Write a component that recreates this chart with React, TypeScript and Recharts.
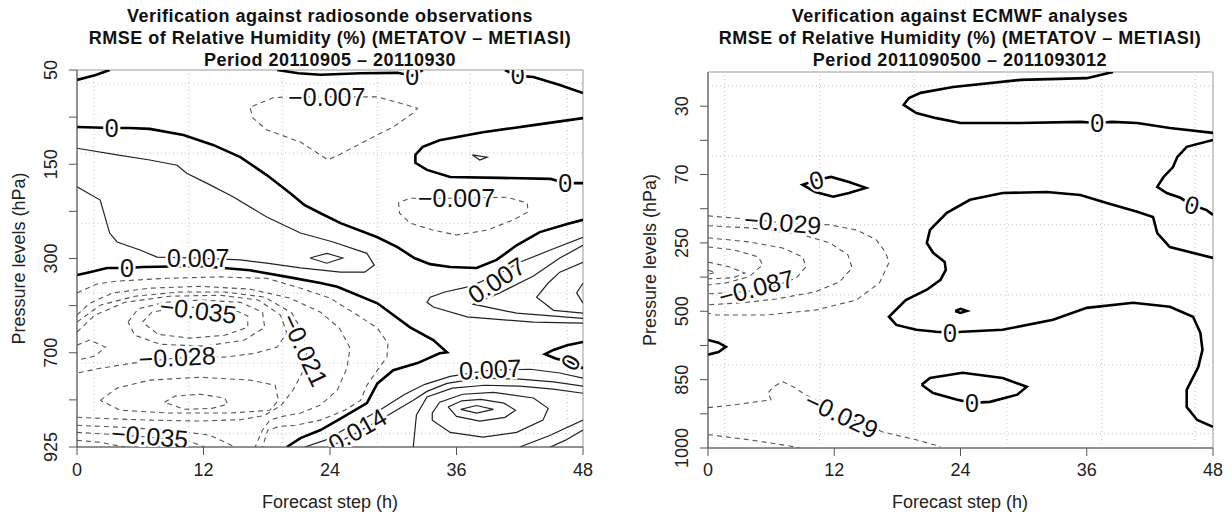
import { ComposedChart, Line, XAxis, YAxis, ReferenceLine, ReferenceArea, Scatter } from 'recharts'

const FONT = '"Liberation Sans", Arial, Helvetica, sans-serif'
const AXIS = '#555'

// forecast steps (h) shared by both panels
const steps = [0, 12, 24, 36, 48]

// ---------- left panel: radiosonde (y = level index 0..8, 0 at top) ----------
const radioLevels = ['50', '', '150', '', '300', '', '700', '', '925']
const radioTicks = [0, 1, 2, 3, 4, 5, 6, 7, 8]
const radioGridX = [1.6, 10.6, 19.5, 28.5, 37.3, 46.5]
const radioGridY = [0.28, 1.76, 3.25, 4.73, 6.22, 7.71]

const radioZeroA = [[0, 0.21], [1.7, 0.11], [3.1, 0]]
const radioZeroB = [[19, 0], [21, 0.07], [23.1, 0.1], [26.9, 0.07], [30.4, 0.06], [31.8, 0.12], [32.8, 0]]
const radioZeroC = [[40.6, 0], [41.7, 0.12], [43.3, 0.15], [45.8, 0.32], [48, 0.49]]
const radioZeroD = [[0, 1.21], [3.3, 1.23], [5.0, 1.23], [6.9, 1.25], [10.1, 1.38], [12.9, 1.59], [15.5, 1.85], [18.0, 2.23], [20.2, 2.61], [21.6, 2.87], [23.1, 3.04], [25.0, 3.25], [28.5, 3.55], [30.4, 3.76], [32.0, 3.99], [33.5, 4.12], [35.4, 4.18], [37.9, 4.2], [39.8, 4.03], [41.7, 3.72], [43.9, 3.44], [46.5, 3.27], [48, 3.18]]
const radioZeroE = [[48, 1.02], [43.3, 1.17], [38.5, 1.32], [34.4, 1.49], [32.8, 1.63], [32.1, 1.8], [32.1, 1.97], [33.2, 2.12], [35.4, 2.27], [40.1, 2.29], [44.9, 2.31], [46.3, 2.4], [48, 2.4]]
const radioZeroF = [[0, 4.35], [1.2, 4.29], [2.85, 4.2], [4.74, 4.2], [6.3, 4.18], [11.7, 4.16], [16.4, 4.25], [20.2, 4.4], [23.1, 4.52], [24.7, 4.6], [28.5, 4.95], [31.6, 5.46], [33.8, 5.73], [35.1, 5.99], [34.4, 6.01], [32.3, 6.22], [30.0, 6.37], [28.5, 6.65], [27.5, 7.07], [25.2, 7.37], [23.1, 7.64], [21.2, 7.81], [19.9, 8]]
const radioZeroG = [[48, 5.77], [46.5, 5.84], [45.2, 5.94], [44.4, 6.03], [45.4, 6.12], [46.8, 6.2], [48, 6.33]]

const radioPosTongue = [[0, 1.66], [3.8, 1.8], [6.9, 1.91], [9.5, 2.02], [10.4, 2.19], [12.3, 2.4], [14.8, 2.69], [18.0, 3.12], [21.2, 3.46], [24.3, 3.65], [27.5, 3.89], [28.2, 4.14], [27.3, 4.29], [25.0, 4.29], [21.2, 4.2], [18.0, 4.1], [15.5, 4.03], [11.5, 3.99], [7.6, 3.97], [5.98, 3.82], [3.8, 3.65], [3.1, 3.46], [2.2, 2.76], [0, 2.48]]
const radioPosDiamond = [[22.1, 3.99], [23.7, 3.89], [25.2, 3.99], [23.7, 4.1], [22.1, 3.99]]
const radioPosTriangle = [[37.5, 1.8], [38.9, 1.85], [38.2, 1.91], [37.5, 1.8]]
const radioPosWedge1 = [[48, 3.55], [44.9, 3.82], [42.0, 4.08], [39.8, 4.35], [37.3, 4.59], [34.9, 4.71], [33.5, 4.82], [33.2, 4.93], [33.8, 5.03], [37.0, 5.24], [43.3, 5.35], [48, 5.37]]
const radioPosWedge2 = [[48, 3.72], [45.8, 3.99], [43.3, 4.37], [40.1, 4.73], [37.6, 4.97], [41.7, 5.16], [48, 5.27]]
const radioPosWedge3 = [[48, 4.08], [45.8, 4.29], [44.7, 4.52], [43.6, 4.82], [45.2, 5.1], [48, 5.16]]
const radioPosWedge4 = [[48, 4.52], [47.4, 4.73], [48, 4.95]]
const radioPosLow1 = [[21.6, 8], [23.5, 7.86], [25.9, 7.56], [28.7, 7.22], [31.1, 6.88], [33.0, 6.67], [35.4, 6.5], [39.2, 6.37], [43.0, 6.35], [45.8, 6.43], [48, 6.54]]
const radioPosLow2 = [[24, 8], [26.6, 7.69], [29.7, 7.3], [31.9, 7.01], [33.2, 6.82], [35.1, 6.65], [38.2, 6.54], [42.0, 6.56], [45.2, 6.62], [48, 6.71]]
const radioPosLow3 = [[31.9, 8], [32.2, 7.32], [33.2, 6.94], [35.6, 6.75], [38.7, 6.69], [42.0, 6.71], [45.2, 6.77], [48, 6.86]]
const radioPosLow4 = [[44.9, 8], [46.3, 7.86], [48, 7.64]]
const radioPosLow5 = [[42.0, 8], [44.9, 7.75], [48, 7.43]]
const radioPosOval1 = [[33.7, 7.28], [34.4, 7.05], [36.6, 6.88], [39.5, 6.84], [43.3, 6.96], [44.7, 7.18], [44.2, 7.43], [41.7, 7.69], [38.5, 7.79], [35.4, 7.69], [33.7, 7.43], [33.7, 7.28]]
const radioPosOval2 = [[35.2, 7.15], [36.5, 7.02], [38.3, 6.99], [40.5, 7.07], [41.6, 7.22], [40.6, 7.37], [38.2, 7.45], [36.0, 7.35], [35.2, 7.15]]
const radioPosOval3 = [[36.4, 7.2], [37.9, 7.12], [39.5, 7.2], [37.9, 7.28], [36.4, 7.2]]

const radioNegTop = [[23.7, 0.57], [28.5, 0.57], [30.6, 0.7], [32.3, 0.81], [31.9, 0.91], [30.0, 1.21], [27.5, 1.49], [25.2, 1.76], [23.8, 1.91], [22.8, 1.76], [21.2, 1.53], [18.0, 1.27], [16.7, 1.02], [16.4, 0.79], [18.6, 0.59], [19.9, 0.57], [23.7, 0.57]]
const radioNegMid = [[36.0, 2.72], [40.8, 2.7], [42.7, 2.82], [42.8, 3.01], [41.4, 3.18], [38.9, 3.4], [36.0, 3.5], [33.8, 3.4], [31.6, 3.25], [30.6, 3.04], [30.5, 2.82], [31.6, 2.72], [36.0, 2.72]]
const radioNeg1 = [[0, 4.73], [1.9, 4.54], [3.8, 4.48], [8.5, 4.42], [13.3, 4.39], [18.0, 4.42], [21.2, 4.63], [24.0, 4.84], [26.6, 5.2], [28.5, 5.48], [29.5, 5.8], [29.4, 6.09], [28.5, 6.37], [27.5, 6.69], [26.9, 7.01], [25.4, 7.22], [23.1, 7.43], [20.7, 7.54], [19.3, 7.56], [18.1, 7.64], [17.6, 8]]
const radioNeg2 = [[0, 5.2], [1.2, 4.95], [3.4, 4.73], [6.9, 4.63], [11.7, 4.59], [16.4, 4.65], [20.2, 4.84], [23.1, 5.14], [24.9, 5.48], [25.9, 5.9], [25.6, 6.33], [24.7, 6.79], [23.1, 7.11], [21.2, 7.28], [19.5, 7.35], [18.3, 7.43], [17.6, 7.64], [16.9, 8]]
const radioNeg3 = [[0, 5.35], [2.2, 4.99], [5.5, 4.8], [9.8, 4.71], [14.0, 4.71], [17.8, 4.82], [20.4, 5.16], [21.4, 5.58], [21.8, 5.99], [21.4, 6.41], [20.5, 6.79], [19.4, 7.11], [17.8, 7.33], [15.5, 7.42], [11.7, 7.45], [6.9, 7.43], [3.1, 7.4], [0, 7.37]]
const radioNeg4 = [[0, 5.56], [1.7, 5.2], [4.55, 4.93], [8.8, 4.8], [13.6, 4.78], [17.2, 4.88], [19.3, 5.2], [19.9, 5.58], [19.0, 5.88], [16.9, 6.01], [14.2, 6.09], [9.5, 6.11], [5.3, 6.22], [2.2, 6.33], [0, 6.43]]
const radioNeg5 = [[0, 5.84], [1.2, 5.73], [2.7, 5.88], [1.7, 6.07], [0, 6.16]]
const radioNegCoreOuter = [[4.84, 5.35], [5.8, 5.07], [8.3, 4.93], [11.7, 4.88], [15.5, 4.93], [17.6, 5.14], [17.8, 5.46], [15.9, 5.73], [12.1, 5.86], [7.9, 5.82], [5.5, 5.63], [4.84, 5.35]]
const radioNegCoreInner = [[6.2, 5.35], [7.1, 5.14], [9.3, 5.05], [11.7, 5.03], [14.5, 5.05], [16.2, 5.22], [16.2, 5.46], [14.0, 5.63], [10.7, 5.69], [7.7, 5.61], [6.2, 5.35]]
const radioNegLowOuter = [[2.2, 7.01], [3.8, 6.75], [6.9, 6.58], [11.7, 6.52], [16.4, 6.58], [18.8, 6.69], [19.1, 7.01], [18.3, 7.22], [14.5, 7.28], [8.8, 7.28], [4.1, 7.22], [2.2, 7.01]]
const radioNegLowInner = [[8.3, 7.05], [9.3, 6.92], [11.7, 6.88], [14.0, 6.96], [14.3, 7.09], [12.8, 7.18], [10.2, 7.2], [8.3, 7.05]]
const radioNegCorner1 = [[0, 7.54], [4.1, 7.58], [8.8, 7.64], [12.6, 7.75], [15.0, 8]]
const radioNegCorner2 = [[0, 7.69], [3.1, 7.73], [6.9, 7.79], [10.7, 7.88], [12.1, 8]]
const radioNegCorner3 = [[0, 7.86], [2.2, 7.9], [4.55, 8]]

const radioThick = [radioZeroA, radioZeroB, radioZeroC, radioZeroD, radioZeroE, radioZeroF, radioZeroG]
const radioThin = [radioPosTongue, radioPosDiamond, radioPosTriangle, radioPosWedge1, radioPosWedge2, radioPosWedge3, radioPosWedge4, radioPosLow1, radioPosLow2, radioPosLow3, radioPosLow4, radioPosLow5, radioPosOval1, radioPosOval2, radioPosOval3]
const radioDashed = [radioNegTop, radioNegMid, radioNeg1, radioNeg2, radioNeg3, radioNeg4, radioNeg5, radioNegCoreOuter, radioNegCoreInner, radioNegLowOuter, radioNegLowInner, radioNegCorner1, radioNegCorner2, radioNegCorner3]

const radioLabels = [
  { x: 31.8, y: 0.13, text: '0', angle: 0 },
  { x: 41.8, y: 0.11, text: '0', angle: 0 },
  { x: 23.7, y: 0.57, text: '\u22120.007', angle: 0 },
  { x: 3.3, y: 1.23, text: '0', angle: 0 },
  { x: 46.3, y: 2.4, text: '0', angle: 0 },
  { x: 36.0, y: 2.72, text: '\u22120.007', angle: 0 },
  { x: 11.5, y: 3.99, text: '0.007', angle: 0 },
  { x: 4.74, y: 4.2, text: '0', angle: 0 },
  { x: 39.8, y: 4.46, text: '0.007', angle: -33 },
  { x: 11.5, y: 5.1, text: '\u22120.035', angle: 7 },
  { x: 21.6, y: 5.94, text: '\u22120.021', angle: 65 },
  { x: 9.5, y: 6.09, text: '\u22120.028', angle: -3 },
  { x: 46.8, y: 6.2, text: '0', angle: -60 },
  { x: 39.2, y: 6.35, text: '0.007', angle: -3 },
  { x: 26.6, y: 7.64, text: '0.014', angle: -30 },
  { x: 6.9, y: 7.77, text: '\u22120.035', angle: 5 },
]

// ---------- right panel: ECMWF analyses (y = level index 0..11) ----------
const ecmwfLevels = ['', '30', '', '70', '', '250', '', '500', '', '850', '', '1000']
const ecmwfTicks = [1, 2, 3, 4, 5, 6, 7, 8, 9, 10, 11]
const ecmwfGridX = [1.6, 10.6, 19.6, 28.4, 37.4, 46.3]
const ecmwfGridY = [0.41, 2.46, 4.47, 6.52, 8.57, 10.58]

const ecmwfZeroTop = [[38.5, 0], [36.0, 0.18], [29.7, 0.23], [23.3, 0.44], [20.2, 0.61], [19.1, 0.76], [18.6, 0.96], [19.8, 1.2], [21.7, 1.35], [24.0, 1.49], [29.7, 1.49], [35.4, 1.46], [37.0, 1.49], [38.4, 1.46], [40.8, 1.49], [43.9, 1.64], [48, 1.78]]
const ecmwfZeroSmall = [[10.3, 3.16], [11.7, 3.07], [13.4, 3.22], [15.0, 3.39], [13.4, 3.54], [11.9, 3.65], [10.2, 3.51], [9.0, 3.3], [10.3, 3.16]]
const ecmwfZeroBig = [[48, 5.44], [43.9, 5.12], [42.7, 4.71], [42.3, 4.24], [40.8, 4.09], [37.9, 3.83], [35.4, 3.6], [32.2, 3.51], [28.0, 3.54], [24.9, 3.74], [22.7, 4.12], [21.1, 4.62], [20.8, 5.0], [21.4, 5.29], [22.5, 5.56], [22.6, 5.79], [22.1, 6.08], [20.8, 6.37], [18.8, 6.67], [17.2, 7.16], [17.9, 7.4], [19.8, 7.54], [21.7, 7.6], [23.0, 7.63], [24.2, 7.6], [28.0, 7.54], [32.8, 7.25], [36.0, 6.9], [40.4, 6.75], [43.9, 6.87], [46.1, 7.16], [46.8, 7.63], [47.0, 8.13], [46.6, 8.63], [45.5, 9.3], [45.5, 9.8], [46.5, 10.18], [48, 10.38]]
const ecmwfZeroRight = [[48, 1.99], [45.5, 2.19], [44.6, 2.49], [44.2, 2.78], [43.3, 3.07], [42.7, 3.36], [43.6, 3.54], [44.9, 3.68], [46.0, 3.89], [47.4, 4.04], [48, 4.18]]
const ecmwfZeroDot = [[23.5, 6.99], [24.0, 6.93], [24.6, 6.99], [24.0, 7.05], [23.5, 6.99]]
const ecmwfZeroLow = [[20.3, 9.15], [21.1, 8.95], [24.2, 8.8], [28.0, 8.95], [30.3, 9.21], [29.4, 9.44], [26.8, 9.65], [25.1, 9.68], [23.7, 9.59], [21.4, 9.39], [20.3, 9.15]]
const ecmwfZeroEdge = [[0, 7.84], [1.0, 7.92], [1.7, 8.04], [1.0, 8.19], [0, 8.27]]

const ecmwfNeg1 = [[0, 4.21], [1.2, 4.24], [4.9, 4.33], [7.1, 4.42], [11.5, 4.47], [14.1, 4.62], [16.0, 4.91], [16.9, 5.29], [17.2, 5.58], [16.3, 6.17], [14.1, 6.67], [10.3, 6.96], [5.5, 7.11], [0.8, 7.11], [0, 7.05]]
const ecmwfNeg2 = [[0, 4.5], [3.9, 4.56], [8.7, 4.74], [11.6, 5.0], [13.3, 5.35], [13.7, 5.73], [12.5, 6.14], [10.2, 6.43], [6.5, 6.64], [3.3, 6.75], [0, 6.81]]
const ecmwfNeg3 = [[0, 4.85], [3.9, 4.97], [7.1, 5.15], [9.0, 5.41], [9.3, 5.7], [8.4, 6.02], [6.2, 6.29], [3.6, 6.43], [0, 6.49]]
const ecmwfNeg4 = [[0, 5.12], [2.4, 5.2], [4.8, 5.41], [5.2, 5.64], [3.9, 5.99], [1.7, 6.17], [0, 6.23]]
const ecmwfNeg5 = [[0, 5.56], [2.0, 5.7], [3.5, 5.88], [2.4, 6.02], [0, 6.05]]
const ecmwfNeg6 = [[0, 5.8], [0.7, 5.86], [0, 5.92]]
const ecmwfNegLow1 = [[0, 9.82], [2.4, 9.74], [6.0, 9.59], [5.7, 9.39], [6.2, 9.21], [7.1, 9.06], [8.1, 9.21], [9.0, 9.39], [12.7, 10.03], [16.6, 10.53], [19.8, 10.76], [22.1, 10.96]]
const ecmwfNegLow2 = [[0, 10.61], [3.9, 10.76], [7.8, 10.94], [8.7, 11]]

const ecmwfThick = [ecmwfZeroTop, ecmwfZeroSmall, ecmwfZeroBig, ecmwfZeroRight, ecmwfZeroDot, ecmwfZeroLow, ecmwfZeroEdge]
const ecmwfThin: number[][][] = []
const ecmwfDashed = [ecmwfNeg1, ecmwfNeg2, ecmwfNeg3, ecmwfNeg4, ecmwfNeg5, ecmwfNeg6, ecmwfNegLow1, ecmwfNegLow2]

const ecmwfLabels = [
  { x: 37.0, y: 1.49, text: '0', angle: 0 },
  { x: 10.3, y: 3.16, text: '0', angle: -15 },
  { x: 46.0, y: 3.89, text: '0', angle: 15 },
  { x: 7.1, y: 4.4, text: '\u22120.029', angle: 5 },
  { x: 4.6, y: 6.3, text: '\u22120.087', angle: -15 },
  { x: 23.0, y: 7.63, text: '0', angle: 0 },
  { x: 25.1, y: 9.68, text: '0', angle: 0 },
  { x: 12.7, y: 10.03, text: '\u22120.029', angle: 25 },
]

type Lab = { x: number; y: number; text: string; angle: number }

const ContourLabel = (props: any) => {
  const { cx, cy, payload } = props
  if (cx == null || cy == null) return <g />
  return (
    <text
      x={cx}
      y={cy}
      dy="0.36em"
      textAnchor="middle"
      transform={`rotate(${payload.angle} ${cx} ${cy})`}
      fontSize={25}
      fontFamily={FONT}
      fill="#111"
      stroke="#fff"
      strokeWidth={5}
      paintOrder="stroke"
    >
      {payload.text}
    </text>
  )
}

interface PanelProps {
  left: number
  margin: { top: number; right: number; bottom: number; left: number }
  yMax: number
  yTicks: number[]
  yLabels: string[]
  yTickX: number
  gridX: number[]
  gridY: number[]
  thick: number[][][]
  thin: number[][][]
  dashed: number[][][]
  labels: Lab[]
}

const pts = (c: number[][]) => c.map(([x, y]) => ({ x, y }))

function Panel({ left, margin, yMax, yTicks, yLabels, yTickX, gridX, gridY, thick, thin, dashed, labels }: PanelProps) {
  return (
    <div style={{ position: 'absolute', left, top: 0 }}>
      <ComposedChart width={616} height={515} margin={margin}>
        <XAxis
          type="number"
          dataKey="x"
          domain={[0, 48]}
          ticks={steps}
          interval={0}
          height={30}
          tickSize={8}
          allowDataOverflow
          axisLine={{ stroke: AXIS }}
          tickLine={{ stroke: AXIS }}
          tick={(p: any) => (
            <text x={p.x} y={476} textAnchor="middle" fontSize={18} fontFamily={FONT} fill="#222">
              {p.payload.value}
            </text>
          )}
        />
        <YAxis
          type="number"
          dataKey="y"
          domain={[0, yMax]}
          reversed
          ticks={yTicks}
          interval={0}
          width={60}
          tickSize={8}
          allowDataOverflow
          axisLine={{ stroke: AXIS }}
          tickLine={{ stroke: AXIS }}
          tick={(p: any) => {
            const t = yLabels[p.payload.value]
            if (!t) return <g />
            return (
              <text x={yTickX} y={p.y} transform={`rotate(-90 ${yTickX} ${p.y})`} textAnchor="middle" fontSize={18} fontFamily={FONT} fill="#222">
                {t}
              </text>
            )
          }}
        />
        {gridX.map((v) => (
          <ReferenceLine key={'gx' + v} x={v} stroke="#c4c4c4" strokeDasharray="1 3" />
        ))}
        {gridY.map((v) => (
          <ReferenceLine key={'gy' + v} y={v} stroke="#c4c4c4" strokeDasharray="1 3" />
        ))}
        <ReferenceArea x1={0} x2={48} y1={0} y2={yMax} fill="none" stroke="#9a9a9a" />
        {dashed.map((c, i) => (
          <Line key={'d' + i} data={pts(c)} dataKey="y" type="linear" stroke="#555" strokeWidth={1.1} strokeDasharray="5 4" dot={false} activeDot={false} isAnimationActive={false} />
        ))}
        {thin.map((c, i) => (
          <Line key={'t' + i} data={pts(c)} dataKey="y" type="linear" stroke="#222" strokeWidth={1.2} dot={false} activeDot={false} isAnimationActive={false} />
        ))}
        {thick.map((c, i) => (
          <Line key={'k' + i} data={pts(c)} dataKey="y" type="linear" stroke="#000" strokeWidth={2.6} dot={false} activeDot={false} isAnimationActive={false} />
        ))}
        <Scatter data={labels} dataKey="y" shape={(p: any) => <ContourLabel {...p} />} isAnimationActive={false} />
      </ComposedChart>
    </div>
  )
}

export default function App() {
  return (
    <div style={{ position: 'absolute', left: 0, top: 0, width: 1232, height: 515, background: '#fff', fontFamily: FONT }}>
      <Panel
        left={0}
        margin={{ top: 70, right: 33, bottom: 38, left: 17 }}
        yMax={8}
        yTicks={radioTicks}
        yLabels={radioLevels}
        yTickX={57}
        gridX={radioGridX}
        gridY={radioGridY}
        thick={radioThick}
        thin={radioThin}
        dashed={radioDashed}
        labels={radioLabels}
      />
      <Panel
        left={616}
        margin={{ top: 72, right: 19, bottom: 37, left: 32 }}
        yMax={11}
        yTicks={ecmwfTicks}
        yLabels={ecmwfLevels}
        yTickX={72}
        gridX={ecmwfGridX}
        gridY={ecmwfGridY}
        thick={ecmwfThick}
        thin={ecmwfThin}
        dashed={ecmwfDashed}
        labels={ecmwfLabels}
      />
      <svg width={1232} height={515} style={{ position: 'absolute', left: 0, top: 0, pointerEvents: 'none' }}>
        <g fontFamily={FONT} fill="#111" fontWeight="bold" fontSize={18} textAnchor="middle" letterSpacing={0.5}>
          <text x={330} y={21.5}>Verification against radiosonde observations</text>
          <text x={330} y={44}>RMSE of Relative Humidity (%) (METATOV – METIASI)</text>
          <text x={330} y={66}>Period 20110905 – 20110930</text>
          <text x={960} y={21.5}>Verification against ECMWF analyses</text>
          <text x={960} y={44}>RMSE of Relative Humidity (%) (METATOV – METIASI)</text>
          <text x={960} y={66}>Period 2011090500 – 2011093012</text>
        </g>
        <g fontFamily={FONT} fill="#222" fontSize={18} textAnchor="middle">
          <text x={330} y={508}>Forecast step (h)</text>
          <text x={960} y={508}>Forecast step (h)</text>
          <text x={25} y={258.5} transform="rotate(-90 25 258.5)">Pressure levels (hPa)</text>
          <text x={656} y={260} transform="rotate(-90 656 260)">Pressure levels (hPa)</text>
        </g>
      </svg>
    </div>
  )
}
